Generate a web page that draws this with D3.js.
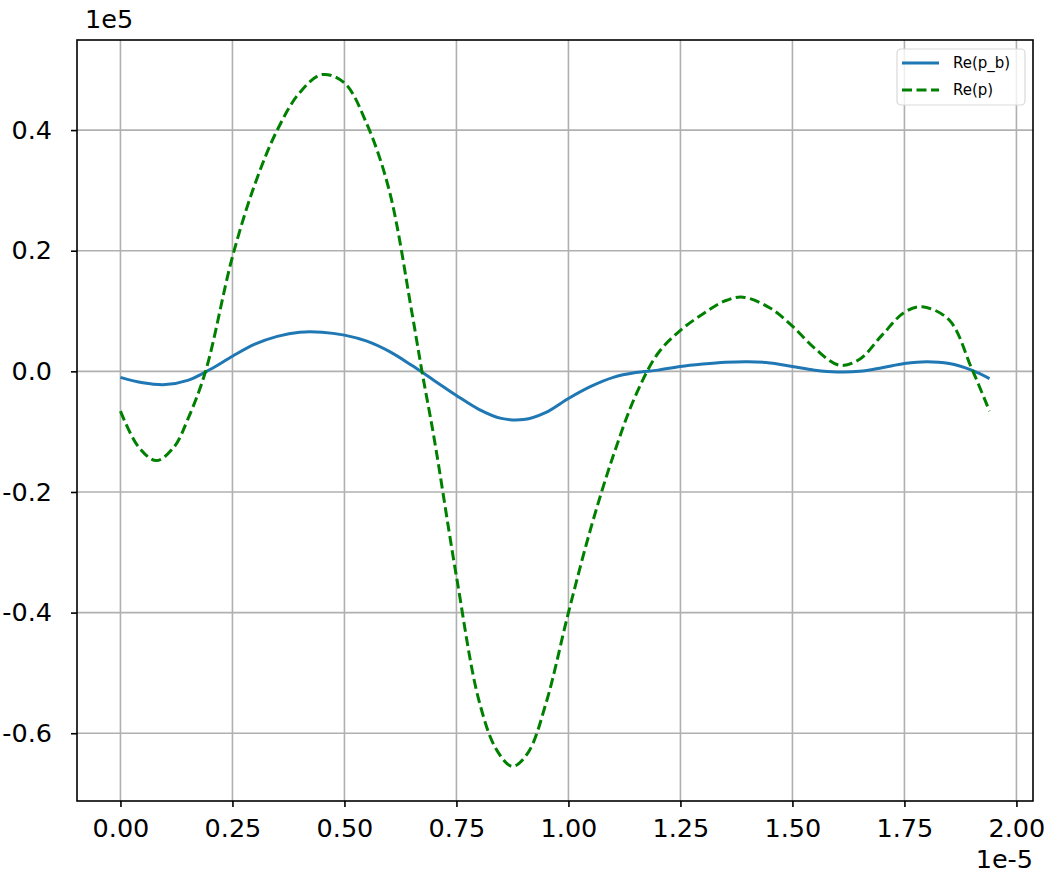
<!DOCTYPE html>
<html>
<head>
<meta charset="utf-8">
<script src="https://cdn.jsdelivr.net/npm/d3@7"></script>
<style>
  body { margin: 0; background: #fff; }
  text { font-family: "DejaVu Sans", sans-serif; }
</style>
</head>
<body>
<svg id="chart"></svg>
<script>
// x in units of 1e-5, y in units of 1e5
const pbX = [0.00, 0.05, 0.10, 0.15, 0.20, 0.25, 0.30, 0.35, 0.40, 0.45, 0.50, 0.55, 0.60, 0.65,
             0.70, 0.75, 0.80, 0.85, 0.90, 0.95, 1.00, 1.05, 1.10, 1.15, 1.20, 1.25, 1.30, 1.35,
             1.40, 1.45, 1.50, 1.55, 1.60, 1.65, 1.70, 1.75, 1.80, 1.85, 1.90, 1.94];
const pbY = [-0.010, -0.019, -0.022, -0.015, 0.003, 0.025, 0.045, 0.058, 0.065, 0.065, 0.060, 0.050,
             0.033, 0.010, -0.015, -0.040, -0.063, -0.078, -0.080, -0.068, -0.045, -0.025, -0.010,
             -0.002, 0.002, 0.008, 0.012, 0.015, 0.016, 0.014, 0.008, 0.002, -0.001, 0.000, 0.006,
             0.013, 0.016, 0.013, 0.002, -0.012];

const pX = [0.00, 0.04, 0.08, 0.12, 0.15, 0.19, 0.25, 0.30, 0.35, 0.40, 0.45, 0.50, 0.55, 0.60,
            0.65, 0.673, 0.70, 0.75, 0.80, 0.84, 0.875, 0.91, 0.95, 1.00, 1.05, 1.10, 1.15, 1.20,
            1.25, 1.30, 1.35, 1.39, 1.45, 1.50, 1.55, 1.605, 1.65, 1.70, 1.75, 1.79, 1.85, 1.90, 1.94];
const pY = [-0.066, -0.125, -0.148, -0.125, -0.080, 0.000, 0.190, 0.310, 0.400, 0.462, 0.492, 0.478,
            0.410, 0.300, 0.100, 0.000, -0.110, -0.340, -0.545, -0.628, -0.655, -0.632, -0.550,
            -0.400, -0.260, -0.140, -0.040, 0.030, 0.068, 0.095, 0.117, 0.123, 0.105, 0.075, 0.038,
            0.010, 0.020, 0.060, 0.098, 0.107, 0.085, 0.005, -0.066];

const xTicks = [0, 0.25, 0.5, 0.75, 1.0, 1.25, 1.5, 1.75, 2.0];
const yTicks = [-0.6, -0.4, -0.2, 0.0, 0.2, 0.4];

const seriesNames = ['Re(p_b)', 'Re(p)'];
const seriesColors = ['#1f77b4', '#008000'];

const width = 1051, height = 881;
const margin = {top: 40, right: 18, bottom: 80, left: 77};

const svg = d3.select('#chart')
    .attr('width', width)
    .attr('height', height);

const series = [
    pbX.map((x, i) => ({x: x, y: pbY[i]})),
    pX.map((x, i) => ({x: x, y: pY[i]}))
];

const allX = pbX.concat(pX);
const allY = pbY.concat(pY);
const [xmin, xmax] = d3.extent(allX);
const [ymin, ymax] = d3.extent(allY);
const xpad = (xmax - xmin) * 0.05;
const ypad = (ymax - ymin) * 0.05;

const xscale = d3.scaleLinear()
    .domain([xmin - xpad, xmax + xpad])
    .range([margin.left, width - margin.right]);

const yscale = d3.scaleLinear()
    .domain([ymin - ypad, ymax + ypad])
    .range([height - margin.bottom, margin.top]);

// grid
const grid = svg.append('g');
grid.selectAll('line.gx')
    .data(xTicks)
    .join('line')
    .attr('class', 'gx')
    .attr('x1', d => xscale(d)).attr('x2', d => xscale(d))
    .attr('y1', margin.top).attr('y2', height - margin.bottom)
    .attr('stroke', '#b0b0b0').attr('stroke-width', 1.6);
grid.selectAll('line.gy')
    .data(yTicks)
    .join('line')
    .attr('class', 'gy')
    .attr('y1', d => yscale(d)).attr('y2', d => yscale(d))
    .attr('x1', margin.left).attr('x2', width - margin.right)
    .attr('stroke', '#b0b0b0').attr('stroke-width', 1.6);

// lines
const line = d3.line()
    .x(d => xscale(d.x))
    .y(d => yscale(d.y))
    .curve(d3.curveCatmullRom.alpha(0.5));

svg.append('path')
    .datum(series[0])
    .attr('d', line)
    .attr('fill', 'none')
    .attr('stroke', seriesColors[0])
    .attr('stroke-width', 3);

svg.append('path')
    .datum(series[1])
    .attr('d', line)
    .attr('fill', 'none')
    .attr('stroke', seriesColors[1])
    .attr('stroke-width', 3)
    .attr('stroke-dasharray', '10,4.5');

// axes
const xaxis = d3.axisBottom(xscale)
    .tickValues(xTicks)
    .tickFormat(d3.format('.2f'))
    .tickSize(6)
    .tickPadding(6);
const yaxis = d3.axisLeft(yscale)
    .tickValues(yTicks)
    .tickFormat(d => d3.format('.1f')(d).replace('−', '-'))
    .tickSize(6)
    .tickPadding(19);

const xg = svg.append('g')
    .attr('transform', `translate(0, ${height - margin.bottom})`)
    .call(xaxis);
const yg = svg.append('g')
    .attr('transform', `translate(${margin.left}, 0)`)
    .call(yaxis);

[xg, yg].forEach(g => {
    g.select('.domain').remove();
    g.selectAll('.tick line').attr('stroke', '#000').attr('stroke-width', 1.6);
    g.selectAll('.tick text')
        .attr('fill', '#000')
        .style('font-size', '25.5px')
        .style('font-family', '"DejaVu Sans", sans-serif');
});
xg.selectAll('.tick text').attr('dy', '0.95em');

// frame
svg.append('rect')
    .attr('x', margin.left).attr('y', margin.top)
    .attr('width', width - margin.left - margin.right)
    .attr('height', height - margin.top - margin.bottom)
    .attr('fill', 'none')
    .attr('stroke', '#000')
    .attr('stroke-width', 1.6);

// offset texts
svg.append('text')
    .attr('x', 85).attr('y', 28)
    .style('font-size', '25.5px')
    .text('1e5');
svg.append('text')
    .attr('x', width - margin.right).attr('y', 868)
    .attr('text-anchor', 'end')
    .style('font-size', '25.5px')
    .text('1e-5');

// legend
const legend = svg.append('g').attr('transform', 'translate(897, 49)');
legend.append('rect')
    .attr('width', 128).attr('height', 56)
    .attr('rx', 4)
    .attr('fill', '#fff').attr('fill-opacity', 0.8)
    .attr('stroke', '#d9d9d9').attr('stroke-width', 1.2);
seriesNames.forEach((name, i) => {
    const yy = 14 + i * 27;
    legend.append('line')
        .attr('x1', 5).attr('x2', 42)
        .attr('y1', yy).attr('y2', yy)
        .attr('stroke', seriesColors[i])
        .attr('stroke-width', 3)
        .attr('stroke-dasharray', i === 1 ? '10,4.5' : null);
    legend.append('text')
        .attr('x', 56).attr('y', yy + 5)
        .style('font-size', '15px')
        .text(name);
});
</script>
</body>
</html>
